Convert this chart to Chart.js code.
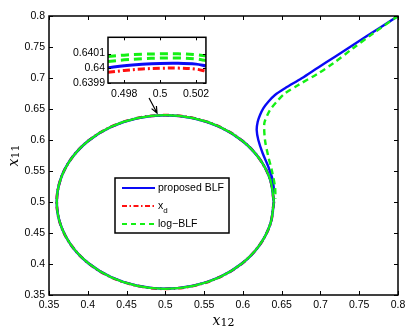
<!DOCTYPE html>
<html>
<head>
<meta charset="utf-8">
<script src="https://cdn.jsdelivr.net/npm/chart.js@4.4.1/dist/chart.umd.min.js"></script>
<style>
  html, body { margin: 0; padding: 0; background: #fff; }
  #wrap { position: relative; width: 416px; height: 333px; }
  #main { position: absolute; left: 0; top: 0; }
  #inset { position: absolute; left: 60px; top: 28px; }
</style>
</head>
<body>
<div id="wrap">
  <canvas id="main" width="416" height="333"></canvas>
  <canvas id="inset" width="155" height="80"></canvas>
</div>
<script>
// ---- data ----
const xTicks = [0.35, 0.4, 0.45, 0.5, 0.55, 0.6, 0.65, 0.7, 0.75, 0.8];
const yTicks = [0.35, 0.4, 0.45, 0.5, 0.55, 0.6, 0.65, 0.7, 0.75, 0.8];

// reference circle x_d, going clockwise from the right-most point
const circleX = [0.64, 0.6352, 0.6212, 0.599, 0.57, 0.5362, 0.5, 0.4638, 0.43, 0.401, 0.3788, 0.3648,
                 0.36, 0.3648, 0.3788, 0.401, 0.43, 0.4638, 0.5, 0.5362, 0.57, 0.599, 0.6212, 0.6352, 0.64];
const circleY = [0.5, 0.4638, 0.43, 0.401, 0.3788, 0.3648, 0.36, 0.3648, 0.3788, 0.401, 0.43, 0.4638,
                 0.5, 0.5362, 0.57, 0.599, 0.6212, 0.6352, 0.64, 0.6352, 0.6212, 0.599, 0.57, 0.5362, 0.5];

// approach from (0.8, 0.8) down to the circle
const blueX = [0.8, 0.7594, 0.7188, 0.6972, 0.6758, 0.6543, 0.6414, 0.6328, 0.6263, 0.6221, 0.6191, 0.6178, 0.6199, 0.6255, 0.6328, 0.6384, 0.6405];
const blueY = [0.8, 0.7672, 0.7344, 0.717, 0.6995, 0.6834, 0.6726, 0.6618, 0.6511, 0.6403, 0.6295, 0.6161, 0.6, 0.5786, 0.5569, 0.5355, 0.515];
const greenX = [0.8, 0.7682, 0.742, 0.7166, 0.6972, 0.6715, 0.6543, 0.6436, 0.635, 0.6307, 0.6276, 0.6285, 0.6328, 0.6372, 0.6414, 0.642];
const greenY = [0.8, 0.7721, 0.748, 0.7237, 0.7076, 0.6887, 0.6753, 0.6618, 0.6484, 0.6376, 0.6269, 0.6, 0.5731, 0.5516, 0.5247, 0.505];

// inset (zoom on the top of the circle)
const insetXTicks = [0.498, 0.5, 0.502];
const insetYTicks = [0.6399, 0.64, 0.6401];
const insetX = [0.4971, 0.498, 0.499, 0.5, 0.501, 0.502, 0.50255];
const insetBlue = [0.640003, 0.640017, 0.640027, 0.640033, 0.640034, 0.640028, 0.640016];
const insetRed = [0.639972, 0.639985, 0.639995, 0.640000, 0.640001, 0.639994, 0.639980];
const insetGreenHi = [0.640080, 0.640089, 0.640095, 0.640098, 0.640098, 0.640092, 0.640084];
const insetGreenLo = [0.640046, 0.640057, 0.640065, 0.640069, 0.640070, 0.640063, 0.640052];

const arrowFrom = [0.479, 0.6677];
const arrowTo = [0.4893, 0.6435];

const legendLabels = ['proposed BLF', 'x|d', 'log\u2212BLF'];

// ---- styles ----
const BLUE = '#0a0af5';
const RED = '#ff1010';
const GREEN = '#14f014';
const FONT = "'Liberation Sans', Arial, sans-serif";

function pts(xs, ys) { return xs.map((x, i) => ({ x: x, y: ys[i] })); }

function lineSet(data, color, dash, width, tension) {
    return {
        data: data, showLine: true, borderColor: color, borderWidth: width,
        borderDash: dash, pointRadius: 0, tension: tension === undefined ? 0.35 : tension, fill: false
    };
}

// box + inward ticks on all four sides (matlab style)
const boxTicks = {
    id: 'boxTicks',
    afterDraw(c) {
        const a = c.chartArea, ctx = c.ctx, L = c.options.plugins.boxTicks.len;
        ctx.save();
        ctx.strokeStyle = '#000';
        ctx.lineWidth = 1;
        ctx.beginPath();
        c.scales.x.ticks.forEach(t => {
            const p = Math.round(c.scales.x.getPixelForValue(t.value)) + 0.5;
            ctx.moveTo(p, a.bottom); ctx.lineTo(p, a.bottom - L);
            ctx.moveTo(p, a.top); ctx.lineTo(p, a.top + L);
        });
        c.scales.y.ticks.forEach(t => {
            const p = Math.round(c.scales.y.getPixelForValue(t.value)) + 0.5;
            ctx.moveTo(a.left, p); ctx.lineTo(a.left + L, p);
            ctx.moveTo(a.right, p); ctx.lineTo(a.right - L, p);
        });
        ctx.stroke();
        ctx.lineWidth = 1.5;
        ctx.strokeRect(a.left, a.top, a.right - a.left, a.bottom - a.top);
        ctx.restore();
    }
};

// arrow, legend and axis titles of the main plot
const extras = {
    id: 'extras',
    afterDraw(c) {
        const ctx = c.ctx, sx = c.scales.x, sy = c.scales.y, a = c.chartArea;
        ctx.save();

        // arrow
        const x0 = sx.getPixelForValue(arrowFrom[0]), y0 = sy.getPixelForValue(arrowFrom[1]);
        const x1 = sx.getPixelForValue(arrowTo[0]), y1 = sy.getPixelForValue(arrowTo[1]);
        const ang = Math.atan2(y1 - y0, x1 - x0);
        ctx.strokeStyle = '#000';
        ctx.lineWidth = 1.2;
        ctx.beginPath();
        ctx.moveTo(x0, y0); ctx.lineTo(x1, y1);
        ctx.moveTo(x1 - 7 * Math.cos(ang - 0.4), y1 - 7 * Math.sin(ang - 0.4));
        ctx.lineTo(x1, y1);
        ctx.lineTo(x1 - 7 * Math.cos(ang + 0.4), y1 - 7 * Math.sin(ang + 0.4));
        ctx.stroke();

        // legend
        const lx = a.left + 66, ly = a.top + 162, lw = 114, lh = 55;
        ctx.fillStyle = '#fff';
        ctx.fillRect(lx, ly, lw, lh);
        ctx.lineWidth = 1.5;
        ctx.strokeRect(lx, ly, lw, lh);
        const styles = [[BLUE, []], [RED, [5, 2.5, 1.5, 2.5]], [GREEN, [5, 4]]];
        ctx.textBaseline = 'middle';
        legendLabels.forEach((lab, i) => {
            const yy = ly + 10 + i * 18;
            ctx.strokeStyle = styles[i][0];
            ctx.setLineDash(styles[i][1]);
            ctx.lineWidth = 2;
            ctx.beginPath();
            ctx.moveTo(lx + 7, yy); ctx.lineTo(lx + 40, yy);
            ctx.stroke();
            ctx.setLineDash([]);
            ctx.fillStyle = '#000';
            const parts = lab.split('|');
            ctx.font = '10.5px ' + FONT;
            ctx.fillText(parts[0], lx + 43, yy);
            if (parts[1]) {
                const w = ctx.measureText(parts[0]).width;
                ctx.font = '8px ' + FONT;
                ctx.fillText(parts[1], lx + 43 + w, yy + 5);
            }
        });

        // axis titles
        function mathLabel(main, sub, x, y) {
            ctx.font = 'italic 14px "DejaVu Serif", serif';
            const w1 = ctx.measureText(main).width;
            ctx.font = '11px "DejaVu Serif", serif';
            const w2 = ctx.measureText(sub).width;
            ctx.textBaseline = 'alphabetic';
            ctx.fillStyle = '#000';
            ctx.font = 'italic 14px "DejaVu Serif", serif';
            ctx.fillText(main, x - (w1 + w2) / 2, y);
            ctx.font = '11px "DejaVu Serif", serif';
            ctx.fillText(sub, x - (w1 + w2) / 2 + w1, y + 1);
        }
        mathLabel('x', '12', (a.left + a.right) / 2, 325);
        ctx.save();
        ctx.translate(18, (a.top + a.bottom) / 2);
        ctx.rotate(-Math.PI / 2);
        mathLabel('x', '11', 0, 0);
        ctx.restore();

        ctx.restore();
    }
};

function fmt(v) { return String(+v.toFixed(4)); }

// first dataset is drawn on top
new Chart(document.getElementById('main'), {
    type: 'scatter',
    data: {
        datasets: [
            lineSet(pts(circleX, circleY), GREEN, [], 2.2),
            lineSet(pts(greenX, greenY), GREEN, [6, 4], 2.4, 0.3),
            lineSet(pts(blueX, blueY), BLUE, [], 2.4, 0.3),
            lineSet(pts(circleX, circleY), BLUE, [], 2.6),
            lineSet(pts(circleX, circleY), RED, [6, 3, 1.5, 3], 2.8)
        ]
    },
    options: {
        responsive: false,
        animation: false,
        layout: { padding: { top: 16, right: 18, left: 0, bottom: 0 } },
        plugins: { legend: { display: false }, tooltip: { enabled: false }, boxTicks: { len: 4 } },
        scales: {
            x: {
                type: 'linear', min: 0.35, max: 0.8,
                afterBuildTicks: s => { s.ticks = xTicks.map(v => ({ value: v })); },
                afterFit: s => { s.height = 38; },
                grid: { display: false, drawTicks: false },
                border: { display: false },
                ticks: { callback: fmt, color: '#000', font: { family: FONT, size: 10.5 }, padding: 4, maxRotation: 0, autoSkip: false }
            },
            y: {
                type: 'linear', min: 0.35, max: 0.8,
                afterBuildTicks: s => { s.ticks = yTicks.map(v => ({ value: v })); },
                afterFit: s => { s.width = 49; },
                grid: { display: false, drawTicks: false },
                border: { display: false },
                ticks: { callback: fmt, color: '#000', font: { family: FONT, size: 10.5 }, padding: 4, autoSkip: false }
            }
        }
    },
    plugins: [boxTicks, extras]
});

const insetWhite = {
    id: 'insetWhite',
    beforeDraw(c) {
        const a = c.chartArea;
        c.ctx.save();
        c.ctx.fillStyle = '#fff';
        c.ctx.fillRect(a.left, a.top, a.right - a.left, a.bottom - a.top);
        c.ctx.restore();
    }
};

new Chart(document.getElementById('inset'), {
    type: 'scatter',
    data: {
        datasets: [
            lineSet(pts(insetX, insetRed), RED, [7, 3, 2, 3], 3),
            lineSet(pts(insetX, insetBlue), BLUE, [], 3),
            lineSet(pts(insetX, insetGreenLo), GREEN, [8, 5], 3),
            lineSet(pts(insetX, insetGreenHi), GREEN, [8, 5], 3)
        ]
    },
    options: {
        responsive: false,
        animation: false,
        layout: { padding: { top: 7, right: 8, left: 0, bottom: 0 } },
        plugins: { legend: { display: false }, tooltip: { enabled: false }, boxTicks: { len: 3 } },
        scales: {
            x: {
                type: 'linear', min: 0.4971, max: 0.50255,
                afterBuildTicks: s => { s.ticks = insetXTicks.map(v => ({ value: v })); },
                afterFit: s => { s.height = 25; },
                grid: { display: false, drawTicks: false },
                border: { display: false },
                ticks: { callback: fmt, color: '#000', font: { family: FONT, size: 10.5 }, padding: 5, maxRotation: 0, autoSkip: false }
            },
            y: {
                type: 'linear', min: 0.6399, max: 0.64021,
                afterBuildTicks: s => { s.ticks = insetYTicks.map(v => ({ value: v })); },
                afterFit: s => { s.width = 48; },
                grid: { display: false, drawTicks: false },
                border: { display: false },
                ticks: { callback: fmt, color: '#000', font: { family: FONT, size: 10.5 }, padding: 3, autoSkip: false }
            }
        }
    },
    plugins: [insetWhite, boxTicks]
});
</script>
</body>
</html>
